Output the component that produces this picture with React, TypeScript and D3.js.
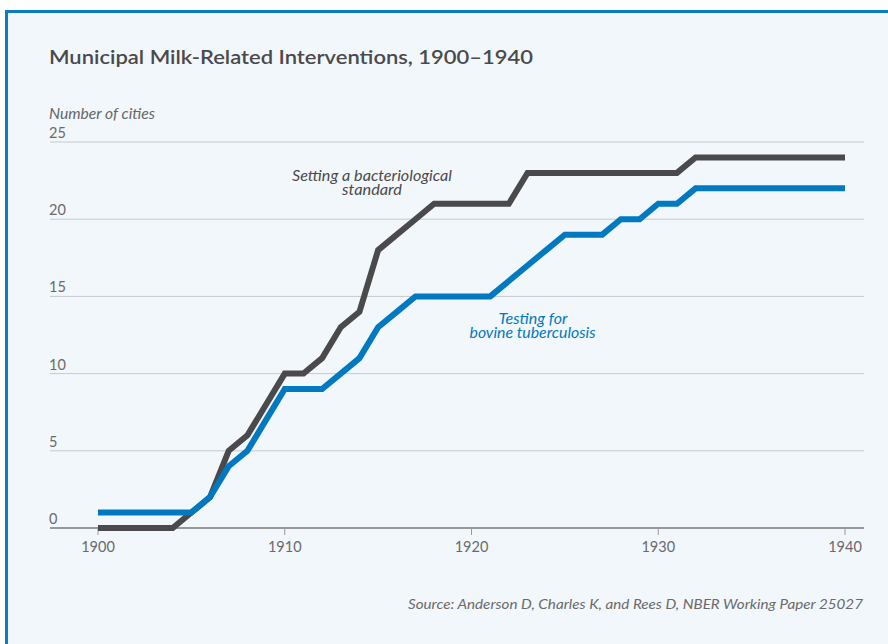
import React from "react";
import * as d3 from "d3";

const years: number[] = [
  1900, 1901, 1902, 1903, 1904, 1905, 1906, 1907, 1908, 1909, 1910,
  1911, 1912, 1913, 1914, 1915, 1916, 1917, 1918, 1919, 1920,
  1921, 1922, 1923, 1924, 1925, 1926, 1927, 1928, 1929, 1930,
  1931, 1932, 1933, 1934, 1935, 1936, 1937, 1938, 1939, 1940,
];
const bacteriological: number[] = [
  0, 0, 0, 0, 0, 1, 2, 5, 6, 8, 10,
  10, 11, 13, 14, 18, 19, 20, 21, 21, 21,
  21, 21, 23, 23, 23, 23, 23, 23, 23, 23,
  23, 24, 24, 24, 24, 24, 24, 24, 24, 24,
];
const tuberculosis: number[] = [
  1, 1, 1, 1, 1, 1, 2, 4, 5, 7, 9,
  9, 9, 10, 11, 13, 14, 15, 15, 15, 15,
  15, 16, 17, 18, 19, 19, 19, 20, 20, 21,
  21, 22, 22, 22, 22, 22, 22, 22, 22, 22,
];
const yTicks: number[] = [0, 5, 10, 15, 20, 25];
const xTicks: number[] = [1900, 1910, 1920, 1930, 1940];

const W = 888;
const H = 644;
const font = "Lato, 'Open Sans', sans-serif";

export default function App() {
  const x = d3.scaleLinear().domain([1900, 1940]).range([98, 845]);
  const y = d3.scaleLinear().domain([0, 25]).range([528, 142]);
  const line = d3
    .line<number>()
    .x((_, i) => x(years[i]))
    .y((d) => y(d));

  const labelProps = {
    fontFamily: font,
    fontStyle: "italic",
    fontSize: 14.5,
    textAnchor: "middle" as const,
    lengthAdjust: "spacingAndGlyphs",
  };

  return (
    <svg
      width={W}
      height={H}
      style={{ position: "absolute", left: 0, top: 0, display: "block" }}
    >
      <rect x={0} y={0} width={W} height={H} fill="#ffffff" />
      <rect x={5} y={10} width={W + 20} height={H + 20} fill="#f2f7fb" />
      <line x1={5} x2={W} y1={11.5} y2={11.5} stroke="#0a7bc4" strokeWidth={3} />
      <line x1={6.5} x2={6.5} y1={10} y2={H} stroke="#0a7bc4" strokeWidth={3} />

      <text
        x={49}
        y={64}
        fontFamily={font}
        fontWeight={600}
        fontSize={19.5}
        fill="#4a4a4c"
        textLength={484}
        lengthAdjust="spacingAndGlyphs"
      >
        Municipal Milk-Related Interventions, 1900–1940
      </text>

      <text
        x={49}
        y={119}
        fontFamily={font}
        fontStyle="italic"
        fontSize={14.5}
        fill="#666"
        textLength={106}
        lengthAdjust="spacingAndGlyphs"
      >
        Number of cities
      </text>

      {yTicks.map((t) => (
        <g key={t}>
          <line
            x1={50}
            x2={864}
            y1={y(t)}
            y2={y(t)}
            stroke={t === 0 ? "#77797c" : "#c5cace"}
            strokeWidth={t === 0 ? 1.5 : 1}
          />
          <text
            x={49}
            y={y(t) - 4}
            fontFamily={font}
            fontSize={14.5}
            fill="#6a6a6a"
          >
            {t}
          </text>
        </g>
      ))}

      {xTicks.map((t) => (
        <g key={t}>
          <line
            x1={x(t)}
            x2={x(t)}
            y1={y(0)}
            y2={y(0) + 7}
            stroke="#999"
            strokeWidth={1}
          />
          <text
            x={x(t)}
            y={552}
            textAnchor="middle"
            fontFamily={font}
            fontSize={14.5}
            fill="#6a6a6a"
          >
            {t}
          </text>
        </g>
      ))}

      <path
        d={line(bacteriological) || ""}
        fill="none"
        stroke="#4a4a4c"
        strokeWidth={6}
        strokeLinejoin="miter"
      />
      <path
        d={line(tuberculosis) || ""}
        fill="none"
        stroke="#0079c1"
        strokeWidth={6}
        strokeLinejoin="miter"
      />

      <text {...labelProps} x={372} y={181} fill="#4a4a4c" textLength={160}>
        Setting a bacteriological
      </text>
      <text {...labelProps} x={372} y={195} fill="#4a4a4c" textLength={60}>
        standard
      </text>
      <text {...labelProps} x={533} y={324} fill="#0079c1" textLength={69}>
        Testing for
      </text>
      <text {...labelProps} x={532.5} y={337.5} fill="#0079c1" textLength={126}>
        bovine tuberculosis
      </text>

      <text
        x={863}
        y={609}
        textAnchor="end"
        fontFamily={font}
        fontStyle="italic"
        fontSize={14}
        fill="#6a6a6a"
        textLength={455}
        lengthAdjust="spacingAndGlyphs"
      >
        Source: Anderson D, Charles K, and Rees D, NBER Working Paper 25027
      </text>
    </svg>
  );
}
